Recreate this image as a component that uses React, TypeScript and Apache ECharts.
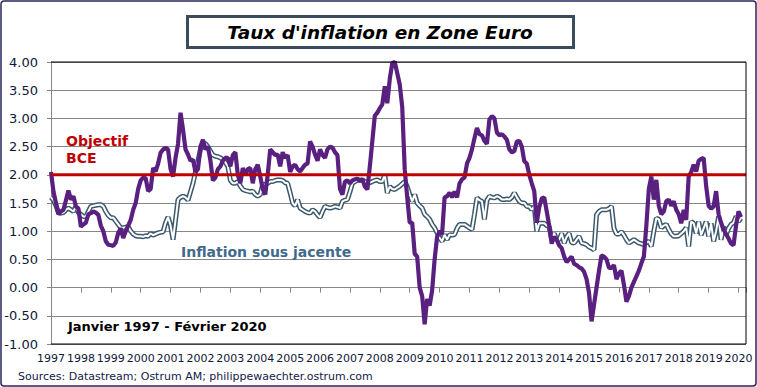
import React, { useEffect, useRef } from "react";
import * as echarts from "echarts";

// Euro area HICP, y/y %, monthly Jan 1997 - Feb 2020
const hicp: number[] = [
  2.05, 1.7, 1.5, 1.3, 1.35, 1.38, 1.55, 1.72, 1.56, 1.62, 1.44, 1.4, // 1997
  1.08, 1.12, 1.15, 1.3, 1.32, 1.35, 1.33, 1.29, 1.1, 1.0, 0.82, 0.76, // 1998
  0.75, 0.74, 0.8, 0.97, 1.05, 0.88, 1.0, 1.1, 1.2, 1.38, 1.5, 1.75, // 1999
  1.9, 1.95, 1.94, 1.71, 1.75, 2.12, 2.06, 2.2, 2.39, 2.45, 2.48, 2.45, // 2000
  2.1, 1.97, 2.3, 2.55, 3.1, 2.8, 2.45, 2.36, 2.25, 2.27, 2.05, 2.1, // 2001
  2.5, 2.62, 2.45, 2.5, 2.25, 1.9, 1.95, 2.1, 2.15, 2.25, 2.3, 2.3, // 2002
  2.15, 2.35, 2.4, 2.0, 1.85, 2.12, 2.0, 2.1, 2.12, 1.85, 2.1, 2.18, // 2003
  1.97, 1.75, 1.65, 2.0, 2.45, 2.4, 2.35, 2.36, 2.15, 2.4, 2.3, 2.35, // 2004
  2.05, 2.15, 2.18, 2.1, 2.06, 2.12, 2.18, 2.2, 2.59, 2.5, 2.36, 2.25, // 2005
  2.45, 2.35, 2.3, 2.45, 2.5, 2.48, 2.4, 2.35, 1.75, 1.65, 1.88, 1.9, // 2006
  1.85, 1.9, 1.92, 1.93, 1.9, 1.92, 1.79, 1.74, 2.15, 2.6, 3.05, 3.1, // 2007
  3.18, 3.25, 3.57, 3.27, 3.7, 3.98, 4.0, 3.8, 3.6, 3.2, 2.1, 1.6, // 2008
  1.15, 1.15, 0.6, 0.55, 0.0, -0.15, -0.65, -0.2, -0.32, -0.05, 0.5, 0.9, // 2009
  1.0, 0.95, 1.6, 1.62, 1.68, 1.6, 1.7, 1.6, 1.85, 1.92, 1.95, 2.2, // 2010
  2.3, 2.45, 2.65, 2.83, 2.72, 2.7, 2.6, 2.55, 2.98, 3.04, 3.0, 2.75, // 2011
  2.7, 2.72, 2.68, 2.62, 2.45, 2.4, 2.42, 2.59, 2.6, 2.5, 2.24, 2.2, // 2012
  2.0, 1.85, 1.71, 1.15, 1.42, 1.58, 1.6, 1.35, 1.1, 0.78, 0.9, 0.85, // 2013
  0.75, 0.7, 0.55, 0.45, 0.5, 0.55, 0.42, 0.4, 0.36, 0.34, 0.28, 0.15, // 2014
  -0.1, -0.6, -0.3, 0.0, 0.3, 0.57, 0.55, 0.5, 0.35, 0.35, 0.4, 0.15, // 2015
  0.25, 0.3, 0.05, -0.25, -0.15, 0.0, 0.1, 0.2, 0.3, 0.43, 0.55, 1.1, // 2016
  1.75, 1.97, 1.56, 1.91, 1.45, 1.3, 1.35, 1.53, 1.56, 1.45, 1.53, 1.38, // 2017
  1.3, 1.14, 1.38, 1.2, 1.97, 2.05, 2.18, 2.06, 2.25, 2.28, 2.3, 1.8, // 2018
  1.45, 1.4, 1.44, 1.71, 1.3, 1.15, 1.03, 0.95, 0.87, 0.78, 0.75, 1.1, // 2019
  1.35, 1.25, // 2020
];

// Core inflation ("Inflation sous jacente"), y/y %
const core: number[] = [
  1.6, 1.55, 1.45, 1.33, 1.32, 1.33, 1.38, 1.41, 1.38, 1.35, 1.44, 1.33, // 1997
  1.3, 1.26, 1.26, 1.35, 1.44, 1.45, 1.46, 1.47, 1.47, 1.44, 1.35, 1.28, // 1998
  1.24, 1.24, 1.18, 1.12, 1.06, 1.06, 1.07, 1.08, 1.0, 0.95, 0.92, 0.91, // 1999
  0.91, 0.9, 0.92, 0.91, 0.96, 0.93, 0.95, 0.97, 0.98, 0.99, 1.15, 1.25, // 2000
  1.1, 0.85, 1.2, 1.56, 1.6, 1.62, 1.6, 1.55, 1.7, 1.85, 2.05, 2.25, // 2001
  2.45, 2.56, 2.55, 2.5, 2.42, 2.35, 2.33, 2.32, 2.3, 2.27, 2.22, 2.15, // 2002
  1.9, 1.85, 1.85, 1.88, 1.8, 1.74, 1.72, 1.71, 1.7, 1.71, 1.65, 1.62, // 2003
  1.65, 1.83, 1.83, 1.85, 1.88, 1.88, 1.9, 1.91, 1.91, 1.9, 1.86, 1.85, // 2004
  1.68, 1.5, 1.45, 1.56, 1.41, 1.38, 1.35, 1.33, 1.32, 1.38, 1.35, 1.29, // 2005
  1.24, 1.35, 1.44, 1.42, 1.41, 1.42, 1.44, 1.43, 1.41, 1.53, 1.55, 1.56, // 2006
  1.7, 1.85, 1.88, 1.91, 1.9, 1.91, 1.88, 1.85, 1.86, 1.88, 1.9, 1.91, // 2007
  1.88, 1.88, 2.0, 1.68, 1.79, 1.75, 1.74, 1.77, 1.8, 1.84, 1.88, 1.79, // 2008
  1.65, 1.53, 1.65, 1.5, 1.45, 1.41, 1.3, 1.26, 1.21, 1.12, 1.06, 0.97, // 2009
  0.88, 0.82, 0.94, 0.85, 0.94, 0.93, 0.94, 1.05, 1.12, 1.12, 1.12, 1.09, // 2010
  1.06, 1.03, 1.3, 1.59, 1.55, 1.53, 1.21, 1.55, 1.62, 1.6, 1.59, 1.62, // 2011
  1.6, 1.56, 1.56, 1.57, 1.56, 1.6, 1.68, 1.6, 1.53, 1.5, 1.5, 1.44, // 2012
  1.44, 1.38, 1.44, 1.0, 1.14, 1.14, 1.14, 1.1, 1.08, 0.85, 0.96, 0.85, // 2013
  0.85, 0.96, 0.79, 0.9, 0.96, 0.8, 0.79, 0.85, 0.91, 0.79, 0.78, 0.76, // 2014
  0.72, 0.7, 0.67, 1.29, 1.35, 1.38, 1.38, 1.38, 1.4, 1.44, 1.05, 0.95, // 2015
  0.95, 0.99, 0.93, 0.85, 0.79, 0.82, 0.85, 0.82, 0.79, 0.78, 0.76, 0.8, // 2016
  0.82, 0.73, 1.0, 1.23, 1.21, 1.06, 1.1, 1.12, 1.03, 0.95, 0.91, 0.91, // 2017
  0.92, 0.96, 1.0, 1.06, 0.73, 1.17, 1.14, 0.96, 1.17, 0.93, 1.05, 1.17, // 2018
  0.91, 1.14, 0.82, 1.0, 1.26, 0.85, 1.08, 0.93, 1.05, 1.12, 1.15, 1.26, // 2019
  1.17, 1.23, // 2020
];

const firstYear = 1997;
const target = 2.0; // Objectif BCE
const yMin = -1;
const yMax = 4;
const yStep = 0.5;
const xMaxMonth = 279;

const FONT = "DejaVu Sans";

export default function App() {
  const ref = useRef<HTMLDivElement>(null);

  useEffect(() => {
    if (!ref.current) return;
    const chart = echarts.init(ref.current, undefined, { renderer: "svg" });
    const hicpData = hicp.map((v, i) => [i, v]);
    const coreData = core.map((v, i) => [i, v]);
    const targetData = [
      [0, target],
      [xMaxMonth, target],
    ];

    chart.setOption({
      animation: false,
      backgroundColor: "#ffffff",
      grid: {
        left: 51,
        right: 11,
        top: 62,
        bottom: 43,
        show: true,
        backgroundColor: "#ffffff",
        borderWidth: 0,
      },
      xAxis: [
        {
          type: "value",
          min: 0,
          max: xMaxMonth,
          interval: 12,
          position: "bottom",
          axisLine: { show: true, onZero: true, lineStyle: { color: "#868686", width: 1 } },
          axisTick: { show: true, length: 5, lineStyle: { color: "#868686" } },
          axisLabel: { show: false },
          splitLine: { show: false },
        },
        {
          type: "value",
          min: 0,
          max: xMaxMonth,
          interval: 12,
          position: "bottom",
          axisLine: { show: false, onZero: false },
          axisTick: { show: false },
          splitLine: { show: false },
          axisLabel: {
            show: true,
            margin: 9,
            fontFamily: FONT,
            fontSize: 11,
            color: "#10183a",
            showMaxLabel: false,
            formatter: (v: number) => (v % 12 === 0 ? String(firstYear + v / 12) : ""),
          },
        },
      ],
      yAxis: {
        type: "value",
        min: yMin,
        max: yMax,
        interval: yStep,
        axisLine: { show: true, onZero: false, lineStyle: { color: "#868686" } },
        axisTick: { show: true, length: 4, lineStyle: { color: "#868686" } },
        splitLine: { show: true, lineStyle: { color: "#868686", width: 1 } },
        axisLabel: {
          margin: 13,
          fontFamily: FONT,
          fontSize: 13,
          color: "#10183a",
          formatter: (v: number) => v.toFixed(2),
        },
      },
      series: [
        {
          type: "line",
          data: coreData,
          xAxisIndex: 0,
          showSymbol: false,
          symbol: "none",
          lineStyle: { color: "#3b586c", width: 5 },
          z: 2,
          silent: true,
        },
        {
          type: "line",
          data: coreData,
          xAxisIndex: 0,
          showSymbol: false,
          symbol: "none",
          lineStyle: { color: "#ffffff", width: 2 },
          z: 3,
          silent: true,
        },
        {
          type: "line",
          data: hicpData,
          xAxisIndex: 0,
          showSymbol: false,
          symbol: "none",
          lineStyle: { color: "#5a2080", width: 4.2 },
          z: 4,
          silent: true,
        },
        {
          type: "line",
          data: targetData,
          xAxisIndex: 0,
          showSymbol: false,
          symbol: "none",
          lineStyle: { color: "#c00000", width: 3 },
          z: 5,
          silent: true,
        },
      ],
      graphic: [
        {
          type: "polyline",
          shape: { points: [[51, 62], [746, 62], [746, 344], [51, 344]] },
          style: { stroke: "#000000", lineWidth: 1, fill: null },
          z: 50,
          silent: true,
        },
        {
          type: "rect",
          shape: { x: 1, y: 1, width: 755, height: 385, r: 3 },
          style: { stroke: "#2a2562", lineWidth: 1.5, fill: null },
          z: 50,
          silent: true,
        },
        {
          type: "rect",
          shape: { x: 187.5, y: 16.5, width: 386, height: 31 },
          style: { stroke: "#3a4b5c", lineWidth: 3, fill: "#ffffff" },
          z: 50,
          silent: true,
        },
        {
          type: "text",
          x: 380,
          y: 32,
          style: {
            text: "Taux d'inflation en Zone Euro",
            fontFamily: FONT,
            fontSize: 18.5,
            fontWeight: "bold",
            fontStyle: "italic",
            fill: "#000000",
            align: "center",
            verticalAlign: "middle",
          },
          z: 51,
          silent: true,
        },
        {
          type: "text",
          x: 66,
          y: 132,
          style: {
            text: "Objectif\nBCE",
            fontFamily: FONT,
            fontSize: 14,
            fontWeight: "bold",
            lineHeight: 17,
            fill: "#c00000",
            align: "left",
            verticalAlign: "top",
          },
          z: 51,
          silent: true,
        },
        {
          type: "text",
          x: 181,
          y: 252,
          style: {
            text: "Inflation sous jacente",
            fontFamily: FONT,
            fontSize: 14,
            fontWeight: "bold",
            fill: "#3f6a8c",
            align: "left",
            verticalAlign: "middle",
          },
          z: 51,
          silent: true,
        },
        {
          type: "text",
          x: 68,
          y: 326,
          style: {
            text: "Janvier 1997 - Février 2020",
            fontFamily: FONT,
            fontSize: 13,
            fontWeight: "bold",
            fill: "#000000",
            align: "left",
            verticalAlign: "middle",
          },
          z: 51,
          silent: true,
        },
        {
          type: "text",
          x: 18,
          y: 376,
          style: {
            text: "Sources: Datastream; Ostrum AM; philippewaechter.ostrum.com",
            fontFamily: FONT,
            fontSize: 11,
            fill: "#14204a",
            align: "left",
            verticalAlign: "middle",
          },
          z: 51,
          silent: true,
        },
      ],
    });

    return () => chart.dispose();
  }, []);

  return (
    <div
      ref={ref}
      style={{ position: "fixed", left: 0, top: 0, width: 757, height: 387, background: "#fff" }}
    />
  );
}
